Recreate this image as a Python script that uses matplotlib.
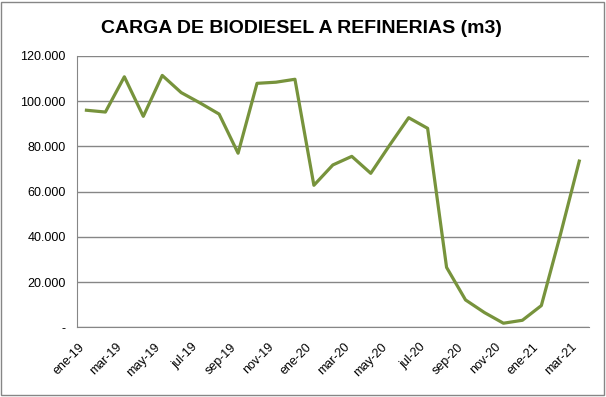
import numpy as np
import matplotlib.pyplot as plt
from matplotlib.patches import Rectangle
from matplotlib.ticker import FuncFormatter
from matplotlib.transforms import ScaledTranslation

months = ["ene", "feb", "mar", "abr", "may", "jun", "jul", "ago", "sep", "oct", "nov", "dic"]
labels = [f"{m}-{y}" for y in ("19", "20") for m in months] + ["ene-21", "feb-21", "mar-21"]

# miles de m3
carga = [96.0, 95.2, 110.8, 93.3, 111.4, 103.8, 99.2, 94.3, 77.0, 107.9, 108.4, 109.7,
         62.8, 71.8, 75.6, 68.1, 80.6, 92.7, 88.0, 26.5, 12.1, 6.5, 1.8, 3.1,
         9.6, 40.8, 73.5]

plt.rcParams["font.family"] = ["Liberation Sans", "DejaVu Sans"]

fig = plt.figure(figsize=(6.06, 3.97), dpi=100)
ax = fig.add_axes([0.127, 0.1756, 0.8445, 0.6834])

x = np.arange(len(carga))
ax.plot(x, carga, color="#77933C", linewidth=2.3)

ax.set_xlim(-0.5, len(carga) - 0.5)
ax.set_ylim(0, 120)
ax.set_yticks(np.arange(0, 121, 20))
ax.yaxis.set_major_formatter(FuncFormatter(
    lambda v, p: "-" if v == 0 else f"{v:.3f}"))
ax.grid(axis="y", color="#868686", linewidth=1.0)
ax.set_axisbelow(True)

ax.set_xticks(x[::2])
ax.set_xticklabels(labels[::2], rotation=45, ha="right", rotation_mode="anchor")
ax.tick_params(axis="both", length=0, labelsize=9, colors="black")
ax.tick_params(axis="y", pad=8)
ax.tick_params(axis="x", pad=10)
shift = ScaledTranslation(-6 / 72, 0, fig.dpi_scale_trans)
for lbl in ax.get_xticklabels():
    lbl.set_transform(lbl.get_transform() + shift)

for s in ["top", "right"]:
    ax.spines[s].set_visible(False)
ax.spines["left"].set_color("#868686")
ax.spines["bottom"].set_color("#868686")

fig.text(0.497, 0.928, "CARGA DE BIODIESEL A REFINERIAS (m3)", ha="center", va="center",
         fontsize=14, fontweight="bold")

fig.patches.append(Rectangle((0.002, 0.004), 0.995, 0.992, transform=fig.transFigure,
                             fill=False, edgecolor="#868686", linewidth=1.0))

fig.savefig("out.png", dpi=100)
